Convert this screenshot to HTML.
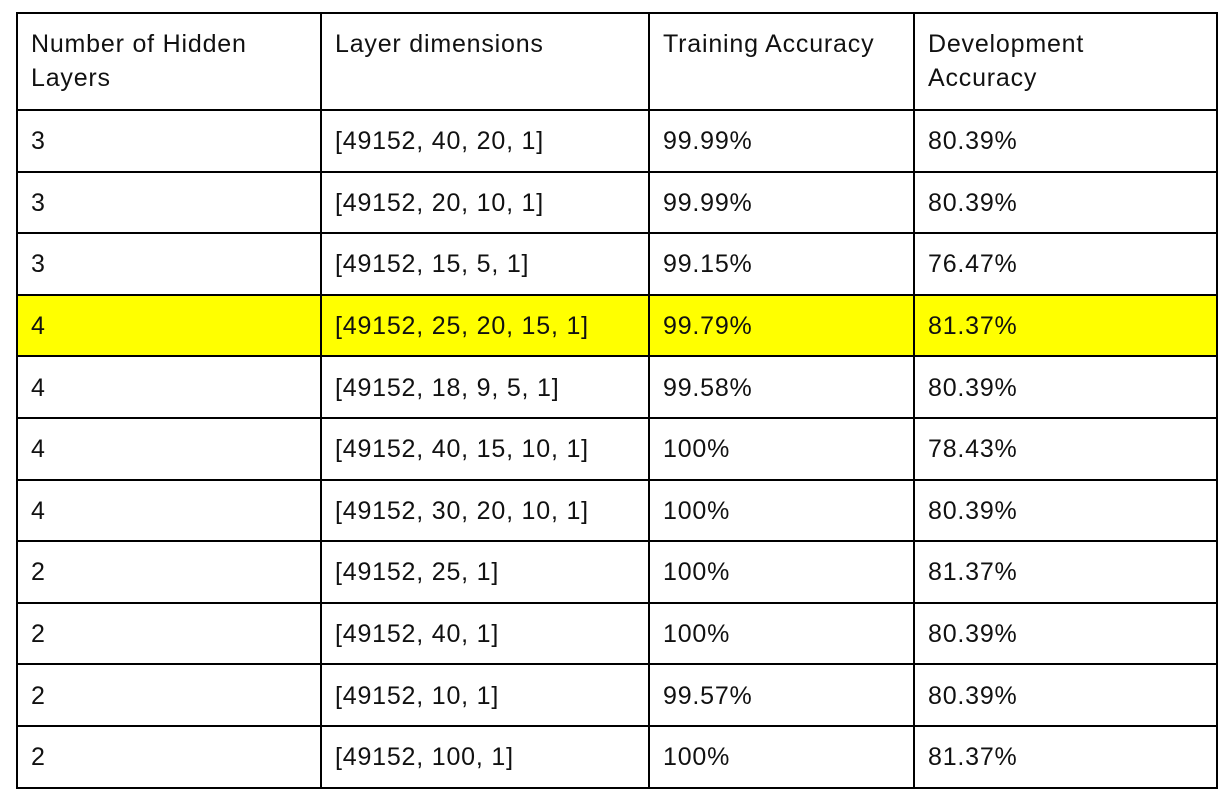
<!DOCTYPE html>
<html><head><meta charset="utf-8"><style>
html,body{margin:0;padding:0;background:#fff;width:1224px;height:789px;overflow:hidden}
table{position:absolute;left:16px;top:12px;border-collapse:collapse;table-layout:fixed;font-family:"Liberation Sans",Arial,sans-serif;font-size:25px;letter-spacing:0.8px;color:#111}
td{border:2px solid #000;padding:0 0 0 13px;vertical-align:middle;line-height:34px;box-sizing:border-box;white-space:nowrap}
tr.h td{height:97px;vertical-align:top;padding-top:13px}
tr.r td{height:61.6px;padding-top:1px}
tr.hl td{background:#ffff00}
</style></head><body>
<table>
<colgroup><col style="width:304px"><col style="width:328px"><col style="width:265px"><col style="width:303px"></colgroup>
<tr class="h"><td>Number of Hidden<br>Layers</td><td>Layer dimensions</td><td>Training Accuracy</td><td>Development<br>Accuracy</td></tr>
<tr class="r"><td>3</td><td>[49152, 40, 20, 1]</td><td>99.99%</td><td>80.39%</td></tr>
<tr class="r"><td>3</td><td>[49152, 20, 10, 1]</td><td>99.99%</td><td>80.39%</td></tr>
<tr class="r"><td>3</td><td>[49152, 15, 5, 1]</td><td>99.15%</td><td>76.47%</td></tr>
<tr class="r hl"><td>4</td><td>[49152, 25, 20, 15, 1]</td><td>99.79%</td><td>81.37%</td></tr>
<tr class="r"><td>4</td><td>[49152, 18, 9, 5, 1]</td><td>99.58%</td><td>80.39%</td></tr>
<tr class="r"><td>4</td><td>[49152, 40, 15, 10, 1]</td><td>100%</td><td>78.43%</td></tr>
<tr class="r"><td>4</td><td>[49152, 30, 20, 10, 1]</td><td>100%</td><td>80.39%</td></tr>
<tr class="r"><td>2</td><td>[49152, 25, 1]</td><td>100%</td><td>81.37%</td></tr>
<tr class="r"><td>2</td><td>[49152, 40, 1]</td><td>100%</td><td>80.39%</td></tr>
<tr class="r"><td>2</td><td>[49152, 10, 1]</td><td>99.57%</td><td>80.39%</td></tr>
<tr class="r"><td>2</td><td>[49152, 100, 1]</td><td>100%</td><td>81.37%</td></tr>
</table>
</body></html>
